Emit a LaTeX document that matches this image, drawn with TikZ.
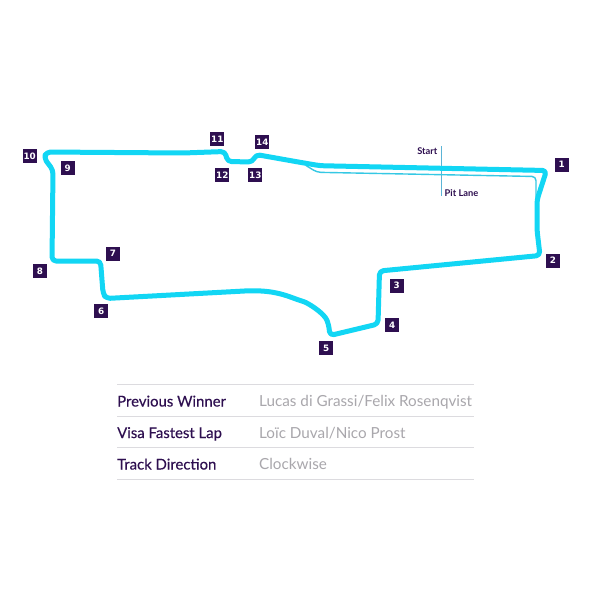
\documentclass[tikz,border=0pt]{standalone}
\usepackage{fontspec}
\setmainfont{Lato}
\newfontfamily\tagfont{DejaVu Sans}
\newfontfamily\headfont[FakeBold=0.25]{Lato}
\definecolor{trackc}{HTML}{12D6F4}
\definecolor{pitc}{HTML}{35C8E4}
\definecolor{markc}{HTML}{5BB4D6}
\definecolor{purp}{HTML}{2E0F50}
\definecolor{greyt}{HTML}{A9A7AC}
\definecolor{rulec}{HTML}{DCDBDF}
\tikzset{
  track/.style={draw=trackc,line width=5pt,line join=round,line cap=round,rounded corners=4pt},
  pit/.style={draw=pitc,line width=1.4pt,line join=round,rounded corners=4pt},
  marker/.style={draw=markc,line width=1pt},
  tag/.style={fill=purp,text=white,minimum size=14pt,inner sep=0pt,font=\tagfont\bfseries\fontsize{8.8}{9}\selectfont},
  lab/.style={text=purp,font=\bfseries\fontsize{9.3}{10}\selectfont,inner sep=0pt},
  rowh/.style={text=purp,anchor=base west,inner sep=0pt,font=\headfont\fontsize{14.9}{16}\selectfont},
  rowv/.style={text=greyt,anchor=base west,inner sep=0pt,font=\fontsize{15.25}{16}\selectfont},
  tablerule/.style={draw=rulec,line width=0.9pt}
}
\begin{document}
\begin{tikzpicture}[x=1pt,y=-1pt]
\useasboundingbox (0,0) rectangle (600,600);
\fill[white] (0,0) rectangle (600,600);
% start / pit markers
\coordinate (ms) at (441.3,146);
\coordinate (me) at (441.3,196);
\draw[marker] (ms) -- (me);
% pit lane
\draw[pit] (306,165.5) -- (317,172.3) -- (536,176.5) -- (536,202);
% track
\draw[track] (320,165.7) -- (546.5,170.5) -- (537,200) -- (537,230) -- (540,255.5) -- (379.5,271) -- (378,324) -- (330,335.5)
  -- (328.5,324)
  .. controls (324,313) and (308,303) .. (300,300.5) .. controls (285,295) and (275,291) .. (250,290.7)
  -- (106,298.5) -- (103,293) -- (100.5,261) -- (52,261) -- (53,170) -- (44,158) -- (46.5,152) -- (183,153)
  -- (225,151.5) -- (227.5,161.5) -- (252.5,162) -- (256,154.5)
  -- (300,162.3) -- cycle;
% labels
\node[lab,anchor=east] (startl) at (437.5,150.7) {Start};
\node[lab,anchor=west] (pitl) at (444.5,192.8) {Pit Lane};
% corner tags
\node[tag] (t1) at (561.7,164.7) {1};
\node[tag] (t2) at (553,260.7) {2};
\node[tag] (t3) at (396.7,285.7) {3};
\node[tag] (t4) at (392.3,325.3) {4};
\node[tag] (t5) at (326.3,348.3) {5};
\node[tag] (t6) at (101.3,311.3) {6};
\node[tag] (t7) at (113,253.7) {7};
\node[tag] (t8) at (40,271) {8};
\node[tag] (t9) at (67.7,168.3) {9};
\node[tag] (t10) at (29.7,156.3) {10};
\node[tag] (t11) at (217.3,139.3) {11};
\node[tag] (t12) at (222.3,175) {12};
\node[tag] (t13) at (255.3,175) {13};
\node[tag] (t14) at (262.3,142.3) {14};
% table
\foreach \y in {384.3,416,447.7,479.3}
  \draw[tablerule] (117,\y) -- (473.5,\y);
\node[rowh] (h1) at (117,406.5) {Previous Winner};
\node[rowh] (h2) at (117,438) {Visa Fastest Lap};
\node[rowh] (h3) at (117,469.5) {Track Direction};
\node[rowv] (v1) at (259,406.5) {Lucas di Grassi/Felix Rosenqvist};
\node[rowv] (v2) at (259,438) {Loïc Duval/Nico Prost};
\node[rowv] (v3) at (259,469.5) {Clockwise};
\end{tikzpicture}
\end{document}
